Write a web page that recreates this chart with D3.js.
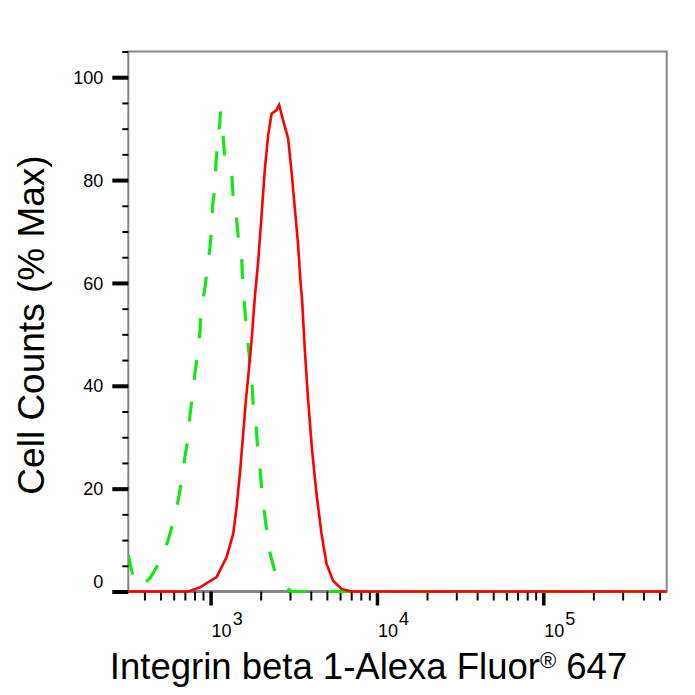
<!doctype html>
<html lang="en">
    <head>
        <meta charset="utf-8">
        <title>Integrin beta 1 flow histogram</title>
        <style>
            html, body { margin: 0; padding: 0; background: #fff; }
            svg text { font-family: "Liberation Sans", Arial, sans-serif; fill: #000; }
        </style>
    </head>
    <body>
        <article id="chart"></article>

        <script src="https://d3js.org/d3.v7.min.js"></script>
        <script>
            // isotype control (green, dashed)
            var greenX = [320, 343, 381, 432, 496, 556, 596, 639, 670, 701, 734, 751, 780, 805, 831, 863, 874, 924,
                          990, 1014, 1028, 1061, 1076, 1101, 1137, 1148, 1191, 1219, 1288, 1337, 1367, 1419, 1465,
                          1536, 1557, 1585, 1630, 1668, 1763, 1803, 1871, 1916, 1978, 2025, 2090, 2170, 2249, 2433,
                          2608, 2794, 3078, 552000];
            var greenY = [7.1, 2.6, 1.0, 2.6, 5.8, 10.0, 13.6, 17.8, 21.7, 26.2, 30.1, 34.3, 38.2, 42.4, 46.0, 50.5, 54.4, 59.0,
                          66.8, 70.3, 75.1, 78.7, 83.3, 86.8, 91.3, 93.3, 88.4, 83.9, 82.9, 81.6, 76.7, 73.8, 69.0,
                          65.1, 60.5, 57.3, 52.4, 48.9, 41.7, 36.2, 32.7, 28.1, 24.3, 20.1, 16.2, 12.0, 8.1, 3.9,
                          2.2, 0.9, 0, 0];

            // Integrin beta 1 stained sample (red, solid)
            var redX = [320, 734, 863, 1086, 1248, 1367, 1433, 1500, 1570, 1630, 1682, 1763, 1845, 1931, 2025, 2119,
                        2218, 2325, 2491, 2582, 2729, 2924, 3066, 3209, 3359, 3471, 3550, 3685, 3857, 4076, 4331,
                        4643, 4975, 5449, 6120, 7028, 552000];
            var redY = [0, 0, 0.8, 2.8, 6.7, 11.2, 16.4, 22.9, 30.7, 37.2, 41.7, 48.8, 57.3, 64.1, 73.2, 82.2,
                        88.7, 92.9, 93.6, 94.6, 91.6, 88.1, 81.6, 74.5, 67.3, 60.2, 56.6, 46.9, 37.2, 27.4, 19.0,
                        11.2, 5.4, 2.1, 0.5, 0, 0];

            var yTicks = [0, 20, 40, 60, 80, 100];
            var xTicks = [1e3, 1e4, 1e5];
            var xTickExp = ["3", "4", "5"];

            var W = 695, H = 695;
            var plotL = 128.3, plotR = 666.7, plotT = 51.5, plotB = 591.5;

            var svg = d3.select("#chart").append("svg")
                .attr("width", W)
                .attr("height", H);

            var x = d3.scaleLog().domain([320, 552000]).range([plotL, plotR]);
            var y = d3.scaleLinear().domain([0, 105]).range([plotB, plotT]);

            // minor tick positions
            var xMinor = [];
            [100, 1000, 10000, 100000].forEach(function(dec) {
                d3.range(2, 10).forEach(function(m) {
                    var v = dec * m;
                    if (v > 320 && v < 552000) xMinor.push(v);
                });
            });
            var yMinor = d3.range(0, 106, 5).filter(function(v) { return yTicks.indexOf(v) < 0; });

            // frame
            svg.append("rect")
                .attr("x", plotL).attr("y", plotT)
                .attr("width", plotR - plotL).attr("height", plotB - plotT)
                .attr("fill", "none")
                .attr("stroke", "#858585")
                .attr("stroke-width", 2);
            svg.append("line")
                .attr("x1", plotL).attr("x2", plotR)
                .attr("y1", plotB).attr("y2", plotB)
                .attr("stroke", "#858585").attr("stroke-width", 3);

            // y axis
            var gyMinor = svg.append("g").attr("transform", "translate(" + plotL + ",0)")
                .call(d3.axisLeft(y).tickValues(yMinor).tickSize(6).tickFormat(""));
            var gy = svg.append("g").attr("transform", "translate(" + plotL + ",0)")
                .call(d3.axisLeft(y).tickValues(yTicks).tickSize(16).tickPadding(9).tickFormat(d3.format("d")));
            gyMinor.selectAll("line").attr("stroke", "#000").attr("stroke-width", 2);
            gy.selectAll("line").attr("stroke", "#000").attr("stroke-width", 4);
            gy.selectAll("text")
                .style("font-size", "18px")
                .attr("dy", function(d) { return d === 0 ? "-0.2em" : "0.34em"; });

            // x axis
            var gxMinor = svg.append("g").attr("transform", "translate(0," + plotB + ")")
                .call(d3.axisBottom(x).tickValues(xMinor).tickSize(9).tickFormat(""));
            var gx = svg.append("g").attr("transform", "translate(0," + plotB + ")")
                .call(d3.axisBottom(x).tickValues(xTicks).tickSize(14).tickFormat(""));
            gxMinor.selectAll("line").attr("stroke", "#000").attr("stroke-width", 2);
            gx.selectAll("line").attr("stroke", "#000").attr("stroke-width", 3.5);
            svg.selectAll(".domain").remove();

            var xl = svg.append("g").selectAll("text")
                .data(xTicks)
                .enter()
                .append("text")
                .attr("x", function(d) { return x(d) + 1; })
                .attr("y", 637)
                .style("font-size", "18px");
            xl.append("tspan").text("10");
            xl.append("tspan")
                .attr("dx", 1)
                .attr("dy", -12)
                .style("font-size", "18px")
                .text(function(d, i) { return xTickExp[i]; });

            // curves
            var line = d3.line()
                .x(function(d) { return x(d[0]); })
                .y(function(d) { return y(d[1]); });

            svg.append("clipPath").attr("id", "plot-clip")
                .append("rect")
                .attr("x", plotL).attr("y", plotT - 10)
                .attr("width", plotR - plotL).attr("height", plotB - plotT + 12);

            svg.append("path")
                .datum(d3.zip(greenX, greenY))
                .attr("clip-path", "url(#plot-clip)")
                .attr("d", line)
                .attr("fill", "none")
                .attr("stroke", "#14e814")
                .attr("stroke-width", 3.2)
                .attr("stroke-dasharray", "20,22");

            svg.append("path")
                .datum(d3.zip(redX, redY))
                .attr("clip-path", "url(#plot-clip)")
                .attr("d", line)
                .attr("fill", "none")
                .attr("stroke", "#ff0000")
                .attr("stroke-width", 2.6);

            // axis titles
            svg.append("text")
                .attr("x", 368.5)
                .attr("y", 679)
                .attr("text-anchor", "middle")
                .style("font-size", "36.5px")
                .html('Integrin beta 1-Alexa Fluor<tspan dy="-11" style="font-size:22px">®</tspan><tspan dy="11"> 647</tspan>');

            svg.append("text")
                .attr("transform", "translate(44,325) rotate(-90)")
                .attr("text-anchor", "middle")
                .style("font-size", "37px")
                .text("Cell Counts (% Max)");
        </script>
    </body>
</html>
